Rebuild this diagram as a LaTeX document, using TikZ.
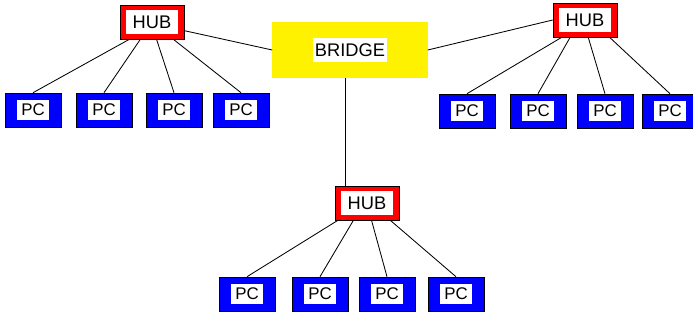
\documentclass[tikz,border=0pt]{standalone}
\usepackage{fontspec}
\setmainfont{Liberation Sans}
\usetikzlibrary{calc}

\newcommand{\whitebox}[3]{{\setlength{\fboxsep}{0pt}\colorbox{white}{\parbox[c][#2][c]{#1}{\centering #3}}}}

\begin{document}
\begin{tikzpicture}[x=0.025cm, y=-0.025cm,
    hub/.style={rectangle, draw=black, fill=red, minimum width=1.6cm, minimum height=0.85cm, inner sep=0pt, font=\fontsize{13}{13}\selectfont},
    pc/.style={rectangle, draw=black, fill=blue, minimum width=1.4cm, minimum height=0.85cm, inner sep=0pt, font=\fontsize{12}{12}\selectfont},
    bridgebox/.style={rectangle, fill=yellow, minimum width=3.875cm, minimum height=1.4cm, inner sep=0pt, font=\fontsize{13}{13}\selectfont},
    link/.style={draw=black, line width=0.6pt}]
    \useasboundingbox (0,0) rectangle (693,320);

    \node[bridgebox] (bridge) at (350,50) {\whitebox{1.85cm}{0.62cm}{BRIDGE}};
    \node[hub] (hubL) at (152,22) {\whitebox{1.28cm}{0.62cm}{HUB}};
    \node[hub] (hubR) at (585,20) {\whitebox{1.28cm}{0.62cm}{HUB}};
    \node[hub] (hubB) at (367,203) {\whitebox{1.28cm}{0.62cm}{HUB}};

    % PC rows
    \foreach \x [count=\i] in {33,104,174,241}
        \node[pc] (pcL\i) at (\x,110) {\whitebox{0.8cm}{0.5cm}{PC}};
    \foreach \x [count=\i] in {467,538,605,670}
        \node[pc] (pcR\i) at (\x,111) {\whitebox{0.8cm}{0.5cm}{PC}};
    \foreach \x [count=\i] in {247,320,387,456}
        \node[pc] (pcB\i) at (\x,294) {\whitebox{0.8cm}{0.5cm}{PC}};

    % hubs to bridge
    \draw[link] (hubL.345) -- (bridge.west);
    \draw[link] (bridge.east) -- (hubR.west);
    \draw[link] (bridge.260) -- (bridge.260 |- hubB.north);

    % hubs to PCs
    \foreach \f [count=\i] in {0.15,0.32,0.57,0.83}
        \draw[link] ($(hubL.south west)!\f!(hubL.south east)$) -- (pcL\i.north);
    \foreach \f [count=\i] in {0.14,0.27,0.55,0.88}
        \draw[link] ($(hubR.south west)!\f!(hubR.south east)$) -- (pcR\i.north);
    \foreach \f [count=\i] in {0.05,0.29,0.57,0.86}
        \draw[link] ($(hubB.south west)!\f!(hubB.south east)$) -- (pcB\i.north);
\end{tikzpicture}
\end{document}
